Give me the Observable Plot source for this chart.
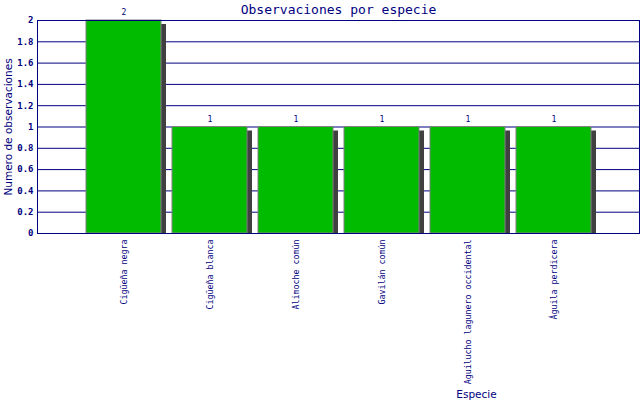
<!DOCTYPE html>
<html><head><meta charset="utf-8">
<script src="https://cdn.jsdelivr.net/npm/d3@7"></script>
<script src="https://cdn.jsdelivr.net/npm/@observablehq/plot@0.6"></script>
<style>body{margin:0;background:#fff} svg{display:block}</style>
</head><body><div id="chart"></div>
<script>
const especies = ["Cigüeña negra", "Cigüeña blanca", "Alimoche común", "Gavilán común", "Aguilucho lagunero occidental", "Águila perdicera"];
const observaciones = [2, 1, 1, 1, 1, 1];
const yTicks = [0, 0.2, 0.4, 0.6, 0.8, 1, 1.2, 1.4, 1.6, 1.8, 2];
const titulo = "Observaciones por especie";
const etiquetaY = "Numero de observaciones";
const etiquetaX = "Especie";

const data = especies.map((e, i) => ({especie: e, n: observaciones[i]}));
const navy = "#000080";

const chart = Plot.plot({
  width: 640, height: 400,
  marginLeft: 37, marginRight: 1, marginTop: 20, marginBottom: 167,
  style: {background: "#fff", fontFamily: "DejaVu Sans Mono", color: navy},
  x: {domain: especies, range: [80, 596], paddingInner: 0.128, paddingOuter: 0.064, label: null, axis: null},
  y: {domain: [0, 2], label: null, axis: null},
  marks: [
    Plot.ruleY(yTicks, {stroke: navy, strokeWidth: 1}),
    Plot.barY(data, {x: "especie", y: "n", fill: "#404040", dx: 5, dy: 4, insetBottom: 4}),
    Plot.barY(data, {x: "especie", y: "n", fill: "#00bb00", stroke: "#808080", strokeWidth: 1}),
    Plot.text(data, {x: "especie", y: "n", text: d => String(d.n), dy: -8, fontSize: 8, fill: navy}),
    Plot.axisY(yTicks, {tickSize: 0, tickPadding: 4, tickFormat: d => String(d), fontSize: 9, fontWeight: "bold", fill: navy, label: null}),
    Plot.axisX({tickSize: 0, tickPadding: 6, tickRotate: -90, fontSize: 8.3, fill: navy, label: null}),
    Plot.frame({stroke: navy}),
    Plot.text([titulo], {frameAnchor: "top", lineAnchor: "middle", textAnchor: "middle", dy: -11, fontSize: 13, fill: navy}),
    Plot.text([etiquetaY], {frameAnchor: "left", textAnchor: "middle", lineAnchor: "middle", dx: -29, rotate: -90, fontSize: 10.5, fontFamily: "DejaVu Sans", fill: navy}),
    Plot.text([etiquetaX], {frameAnchor: "bottom", textAnchor: "middle", lineAnchor: "middle", dx: 138, dy: 161, fontSize: 10.5, fontFamily: "DejaVu Sans", fill: navy})
  ]
});
document.getElementById("chart").appendChild(chart);
</script>
</body></html>
